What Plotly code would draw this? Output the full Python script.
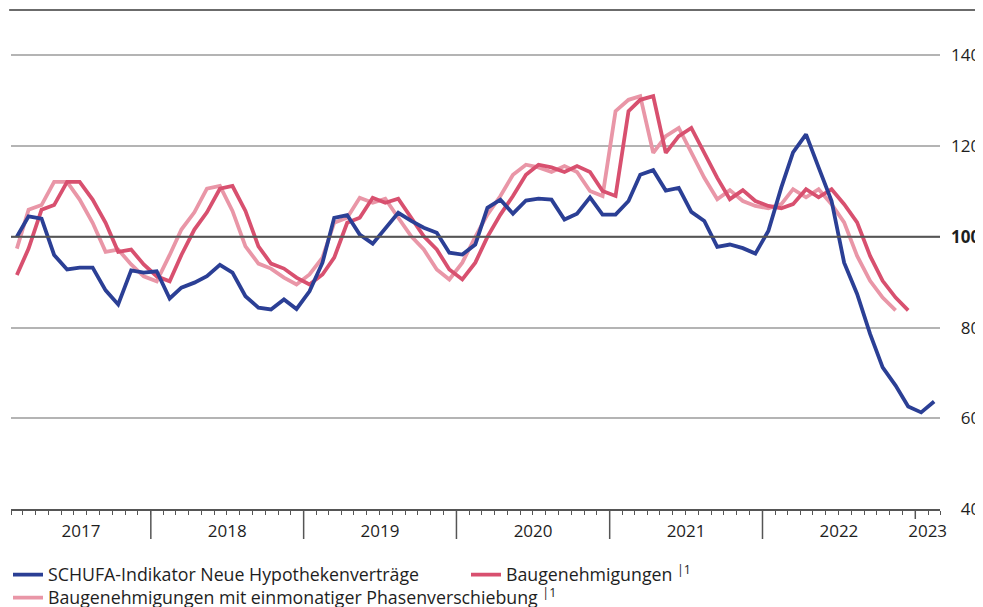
import pandas as pd
import plotly.graph_objects as go

# monthly data, Feb 2017 .. Feb 2023
months = pd.date_range("2017-02-01", "2023-02-01", freq="MS")
mid_month = months + pd.Timedelta(days=14)

schufa = [
    100.0, 104.5, 104.0, 96.0, 92.8, 93.2, 93.2, 88.2, 85.1, 92.6, 92.1,
    92.4, 86.4, 88.8, 89.9, 91.3, 93.8, 92.1, 86.9, 84.4, 84.0, 86.2, 84.1,
    88.0, 94.3, 104.2, 104.8, 100.5, 98.5, 102.0, 105.3, 103.5, 102.0, 100.9, 96.5,
    96.1, 98.3, 106.4, 108.2, 105.1, 108.0, 108.4, 108.2, 103.8, 105.1, 108.7, 104.9,
    104.9, 107.9, 113.7, 114.7, 110.2, 110.8, 105.5, 103.5, 97.8, 98.3, 97.5, 96.3,
    101.3, 110.9, 118.6, 122.6, 115.3, 107.9, 94.3, 87.4, 78.6, 71.2, 67.2, 62.6,
    61.3, 63.7,
]

# Feb 2017 .. Dec 2022
baugenehmigungen = [
    91.6, 97.4, 106.0, 107.0, 112.1, 112.1, 108.2, 103.1, 96.7, 97.2, 93.9,
    91.3, 90.2, 96.0, 101.6, 105.4, 110.6, 111.2, 105.7, 97.9, 94.1, 93.0, 91.0,
    89.5, 91.7, 95.4, 103.1, 104.2, 108.6, 107.5, 108.4, 104.2, 100.1, 97.2, 92.8,
    90.6, 94.3, 100.0, 104.9, 109.0, 113.7, 115.9, 115.3, 114.3, 115.6, 114.3, 110.1,
    109.0, 127.7, 130.2, 131.0, 118.5, 122.2, 124.0, 118.5, 113.0, 108.3, 110.3, 107.9,
    106.8, 106.3, 107.2, 110.5, 108.7, 110.5, 107.2, 103.2, 95.8, 90.3, 86.6, 83.8,
]

# Feb 2017 .. Nov 2022 (one month ahead)
baugenehmigungen_phase = [
    97.4, 106.0, 107.0, 112.1, 112.1, 108.2, 103.1, 96.7, 97.2, 93.9,
    91.3, 90.2, 96.0, 101.6, 105.4, 110.6, 111.2, 105.7, 97.9, 94.1, 93.0, 91.0,
    89.5, 91.7, 95.4, 103.1, 104.2, 108.6, 107.5, 108.4, 104.2, 100.1, 97.2, 92.8,
    90.6, 94.3, 100.0, 104.9, 109.0, 113.7, 115.9, 115.3, 114.3, 115.6, 114.3, 110.1,
    109.0, 127.7, 130.2, 131.0, 118.5, 122.2, 124.0, 118.5, 113.0, 108.3, 110.3, 107.9,
    106.8, 106.3, 107.2, 110.5, 108.7, 110.5, 107.2, 103.2, 95.8, 90.3, 86.6, 83.8,
]

years = [2017, 2018, 2019, 2020, 2021, 2022, 2023]
y_ticks = [40, 60, 80, 100, 120, 140]

x_start = pd.Timestamp("2017-02-01")
x_end = pd.Timestamp("2023-03-01")

# the page body has an 8px margin, so keep the figure inside the window
W, H = 975, 599
BLUE = "#2b3f95"
RED = "#d8506f"
PINK = "#e996a7"
DARK = "#555555"
GRID = "#b4b4b4"
TEXT = "#1e1e1e"
FONT = "Open Sans"


def legend_box(left_px, mid_px):
    # one legend per entry so each can sit where the reference puts it
    return dict(
        xref="container", yref="container",
        x=left_px / W, y=1 - mid_px / H, xanchor="left", yanchor="middle",
        orientation="h", font=dict(size=17.75), itemwidth=30,
        bgcolor="rgba(0,0,0,0)",
    )


fig = go.Figure()
fig.add_trace(go.Scatter(
    x=mid_month[:len(baugenehmigungen_phase)], y=baugenehmigungen_phase,
    mode="lines", line=dict(color=PINK, width=3.8), legend="legend3",
    name="Baugenehmigungen mit einmonatiger Phasenverschiebung <sup>|1</sup>",
))
fig.add_trace(go.Scatter(
    x=mid_month[:len(baugenehmigungen)], y=baugenehmigungen,
    mode="lines", line=dict(color=RED, width=3.8), legend="legend2",
    name="Baugenehmigungen <sup>|1</sup>",
))
fig.add_trace(go.Scatter(
    x=mid_month, y=schufa,
    mode="lines", line=dict(color=BLUE, width=3.8), legend="legend",
    name="SCHUFA-Indikator Neue Hypothekenverträge",
))

# year labels centred on the visible part of each year
label_pos = []
for yr in years:
    a = max(pd.Timestamp(f"{yr}-01-01"), x_start)
    b = min(pd.Timestamp(f"{yr + 1}-01-01"), x_end)
    label_pos.append(a + (b - a) / 2)

# year separators below the axis
shapes = []
for yr in years[1:]:
    shapes.append(dict(
        type="line", xref="x", yref="paper", ysizemode="pixel", yanchor=0,
        x0=f"{yr}-01-01", x1=f"{yr}-01-01", y0=0, y1=-10 if yr == years[-1] else -30,
        line=dict(color=DARK, width=1.5),
    ))
# reference line at 100 and top rule
shapes.append(dict(type="line", xref="paper", yref="y", x0=0, x1=1, y0=100, y1=100,
                   line=dict(color=DARK, width=2)))
shapes.append(dict(type="line", xref="paper", yref="paper", x0=-0.002, x1=1.04, y0=1, y1=1,
                   line=dict(color="#6b6b6b", width=2)))

y_text = []
for v in y_ticks:
    if v == 100:
        y_text.append("<b>100</b>")
    else:
        y_text.append(("\u2007" if v < 100 else "") + str(v))

fig.update_layout(
    width=W, height=H,
    margin=dict(l=3, r=43, t=2, b=98, autoexpand=False),
    paper_bgcolor="white", plot_bgcolor="white",
    font=dict(family=FONT, size=17, color=TEXT),
    shapes=shapes,
    showlegend=True,
    legend=legend_box(-9, 567),
    legend2=legend_box(458, 567),
    legend3=legend_box(-9, 590),
    xaxis=dict(
        type="date", range=[x_start, x_end], automargin=False,
        tickmode="array", tickvals=label_pos, ticktext=[str(y) for y in years],
        ticks="", ticklabelstandoff=6,
        showline=True, linecolor=DARK, linewidth=2,
        showgrid=False, zeroline=False,
        minor=dict(tickmode="linear", tick0="2017-01-01", dtick="M1",
                   ticks="outside", ticklen=4, tickcolor=DARK, tickwidth=1,
                   showgrid=False),
        tickfont=dict(size=17),
    ),
    yaxis=dict(
        side="right", range=[40, 150], automargin=False,
        tickmode="array", tickvals=y_ticks, ticktext=y_text,
        ticks="", ticklabelstandoff=10,
        showgrid=True, gridcolor=GRID, gridwidth=1.5,
        zeroline=False, showline=False,
        tickfont=dict(size=17),
    ),
)

fig.write_html("out.html")
